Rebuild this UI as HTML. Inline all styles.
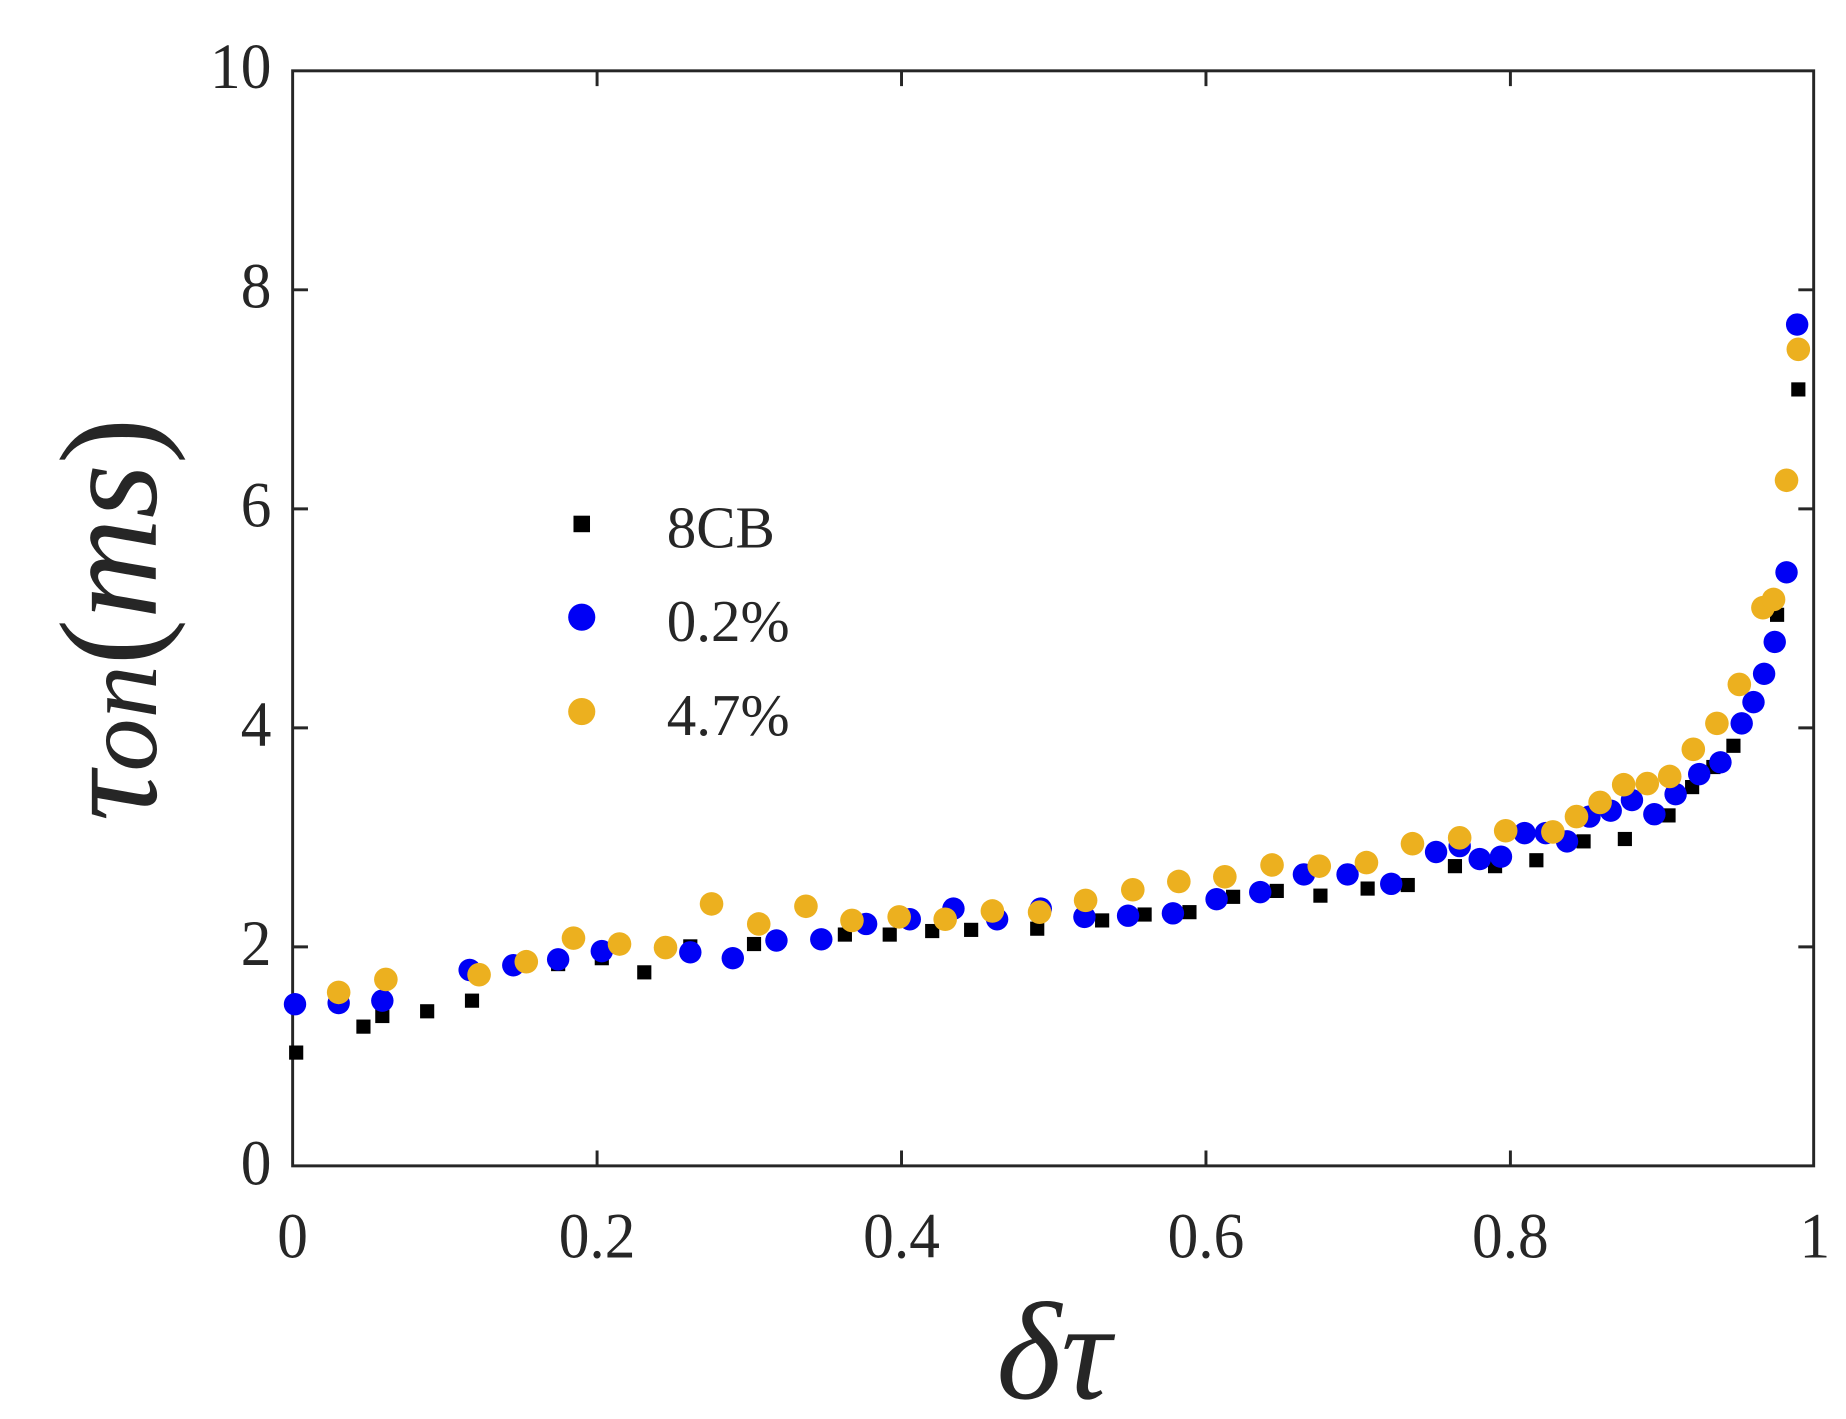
<!DOCTYPE html>
<html><head><meta charset="utf-8"><style>
html,body{margin:0;padding:0;background:#fff;}
svg{display:block;}
text{font-family:"Liberation Serif",serif;fill:#262626;}
</style></head><body>
<svg width="1846" height="1419" viewBox="0 0 1564.4 1202.5" xmlns="http://www.w3.org/2000/svg">
<rect x="0" y="0" width="1564.4" height="1202.5" fill="#fff"/>
<g stroke="#262626" stroke-width="2.5" fill="none">
<rect x="248" y="60" width="1289" height="928"/>
<path d="M506,988v-13M764,988v-13M1022,988v-13M1280,988v-13M506,60v13M764,60v13M1022,60v13M1280,60v13"/>
<path d="M248,802.4h13M248,616.8h13M248,431.2h13M248,245.6h13M1537,802.4h-13M1537,616.8h-13M1537,431.2h-13M1537,245.6h-13"/>
</g>
<g font-size="52" text-anchor="end" transform="scale(1,1.05)">
<text x="230" y="956">0</text><text x="230" y="779">2</text><text x="230" y="602">4</text><text x="230" y="425">6</text><text x="230" y="248">8</text><text x="230" y="71">10</text>
</g>
<g font-size="52" text-anchor="middle" transform="scale(1,1.05)">
<text x="248" y="1015">0</text><text x="506" y="1015">0.2</text><text x="764" y="1015">0.4</text><text x="1022" y="1015">0.6</text><text x="1280" y="1015">0.8</text><text x="1538" y="1015">1</text>
</g>
<text x="893" y="1185" font-size="118" text-anchor="middle" font-style="italic">δτ</text>
<text transform="translate(132,525) rotate(-90)" font-size="118" text-anchor="middle"><tspan font-style="italic">τ</tspan><tspan font-style="italic" font-size="90">on</tspan><tspan>(</tspan><tspan font-style="italic">ms</tspan><tspan>)</tspan></text>
<g id="pts"></g>
<g font-size="50">
<text x="565" y="464">8CB</text><text x="565" y="543">0.2%</text><text x="565" y="623">4.7%</text>
</g>
<rect x="486" y="437" width="14" height="14" fill="#000"/>
<circle cx="493" cy="523" r="11.5" fill="#0000f5"/>
<circle cx="493" cy="603" r="11.5" fill="#ecb01f"/>
<script>
var ns="http://www.w3.org/2000/svg";
var g=document.getElementById("pts");
var blk=[[251,892],[308,870],[324,861],[362,857],[400,848],[473,817],[510,812],[546,824],[585,802],[639,800],[716,792],[754,792],[790,789],[823,788],[879,787],[934,780],[970,775],[1008,773],[1045,760],[1082,755],[1119,759],[1159,753],[1193,750],[1233,734],[1267,734],[1302,729],[1342,713],[1377,711],[1414,691],[1434,667],[1452,650],[1469,632],[1506,521],[1524,330]];
var blu=[[250,851],[287,850],[324,848],[398,822],[435,818],[473,813],[510,806],[585,807],[621,812],[658,797],[696,796],[734,783],[771,779],[808,770],[845,779],[882,770],[919,777],[956,776],[994,774],[1031,762],[1068,756],[1105,741],[1142,741],[1179,749],[1217,722],[1237,717],[1254,728],[1272,726],[1292,706],[1310,706],[1328,713],[1347,692],[1365,687],[1383,678],[1402,690],[1420,673],[1440,656],[1458,646],[1476,613],[1486,595],[1495,571],[1504,544],[1514,485],[1523,275]];
var yel=[[287,841],[327,830],[406,826],[446,815],[486,795],[525,800],[564,803],[603,766],[643,783],[683,768],[722,780],[762,777],[801,779],[841,772],[881,773],[920,763],[960,754],[999,747],[1038,743],[1078,733],[1118,734],[1158,731],[1197,715],[1237,710],[1276,704],[1316,705],[1336,692],[1356,680],[1376,665],[1396,664],[1415,658],[1435,635],[1455,613],[1474,580],[1494,515],[1503,508],[1514,407],[1524,296]];
blk.forEach(function(p){var r=document.createElementNS(ns,"rect");r.setAttribute("x",p[0]-6);r.setAttribute("y",p[1]-6);r.setAttribute("width",12);r.setAttribute("height",12);r.setAttribute("fill","#000");g.appendChild(r);});
blu.forEach(function(p){var c=document.createElementNS(ns,"circle");c.setAttribute("cx",p[0]);c.setAttribute("cy",p[1]);c.setAttribute("r",9.5);c.setAttribute("fill","#0000f5");g.appendChild(c);});
yel.forEach(function(p){var c=document.createElementNS(ns,"circle");c.setAttribute("cx",p[0]);c.setAttribute("cy",p[1]);c.setAttribute("r",10);c.setAttribute("fill","#ecb01f");g.appendChild(c);});
</script>
</svg>
</body></html>
